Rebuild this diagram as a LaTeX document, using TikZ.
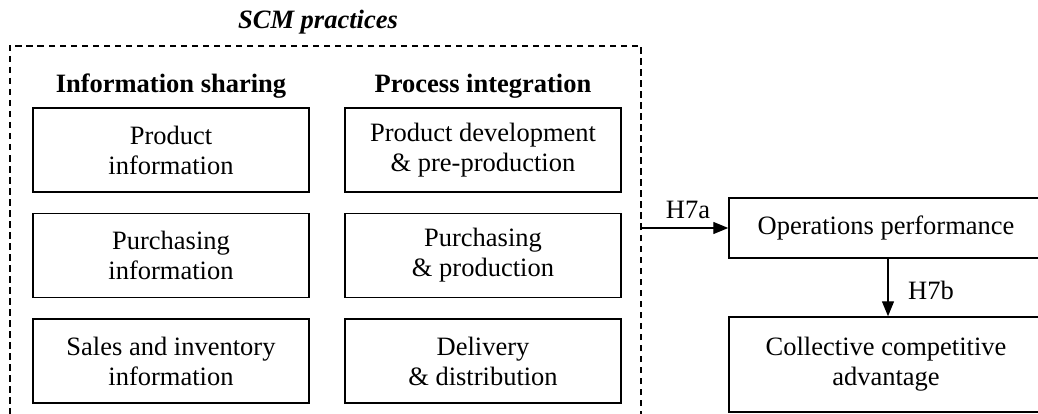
\documentclass[tikz,border=0pt]{standalone}
\usepackage{fontspec}
\setmainfont{Liberation Serif}
\usetikzlibrary{arrows.meta}
\begin{document}
\begin{tikzpicture}[x=1pt,y=-1pt,
  txt/.style={font=\fontsize{26.5}{30}\selectfont},
  box/.style={txt, draw, line width=1.5pt, align=center, inner sep=0pt},
  leftbox/.style={box, minimum width=276pt, minimum height=84pt},
  head/.style={font=\fontsize{26.5}{30}\selectfont\bfseries, anchor=base, inner sep=0pt},
  dashbox/.style={draw, line width=1.4pt, dash pattern=on 6.5pt off 4.5pt, inner sep=0pt},
  conn/.style={line width=1.4pt, -{Triangle[length=15pt,width=12pt]}}
]
\useasboundingbox (0,0) rectangle (1038,414);

% dashed container
\node[dashbox, minimum width=631pt, minimum height=400pt] (scm) at (325.5,246) {};
\node[font=\fontsize{26.5}{30}\selectfont\bfseries\itshape, anchor=base, inner sep=0pt] (title) at (318,29) {SCM practices};

% column headers
\node[head] (h1) at (171,93) {Information sharing};
\node[head] (h2) at (483,93) {Process integration};

% left column
\node[leftbox] (a1) at (171,150) {Product\\information};
\node[leftbox] (a2) at (171,255.5) {Purchasing\\information};
\node[leftbox] (a3) at (171,361) {Sales and inventory\\information};

% right column
\node[leftbox] (b1) at (483,150) {Product development\\\& pre-production};
\node[leftbox] (b2) at (483,255.5) {Purchasing\\\& production};
\node[leftbox] (b3) at (483,361) {Delivery\\\& distribution};

% outcome boxes
\node[box, minimum width=314pt, minimum height=60pt] (op) at (886,228) {Operations performance};
\node[box, minimum width=314pt, minimum height=95pt] (cca) at (886,364.5) {Collective competitive\\advantage};

% connectors
\draw[conn] (scm.east |- op.west) -- (op.west);
\draw[conn] (op.south -| 888,0) -- (cca.north -| 888,0);

% labels
\node[txt, inner sep=0pt] (h7a) at (688,210) {H7a};
\node[txt, inner sep=0pt] (h7b) at (931,290) {H7b};
\end{tikzpicture}
\end{document}
